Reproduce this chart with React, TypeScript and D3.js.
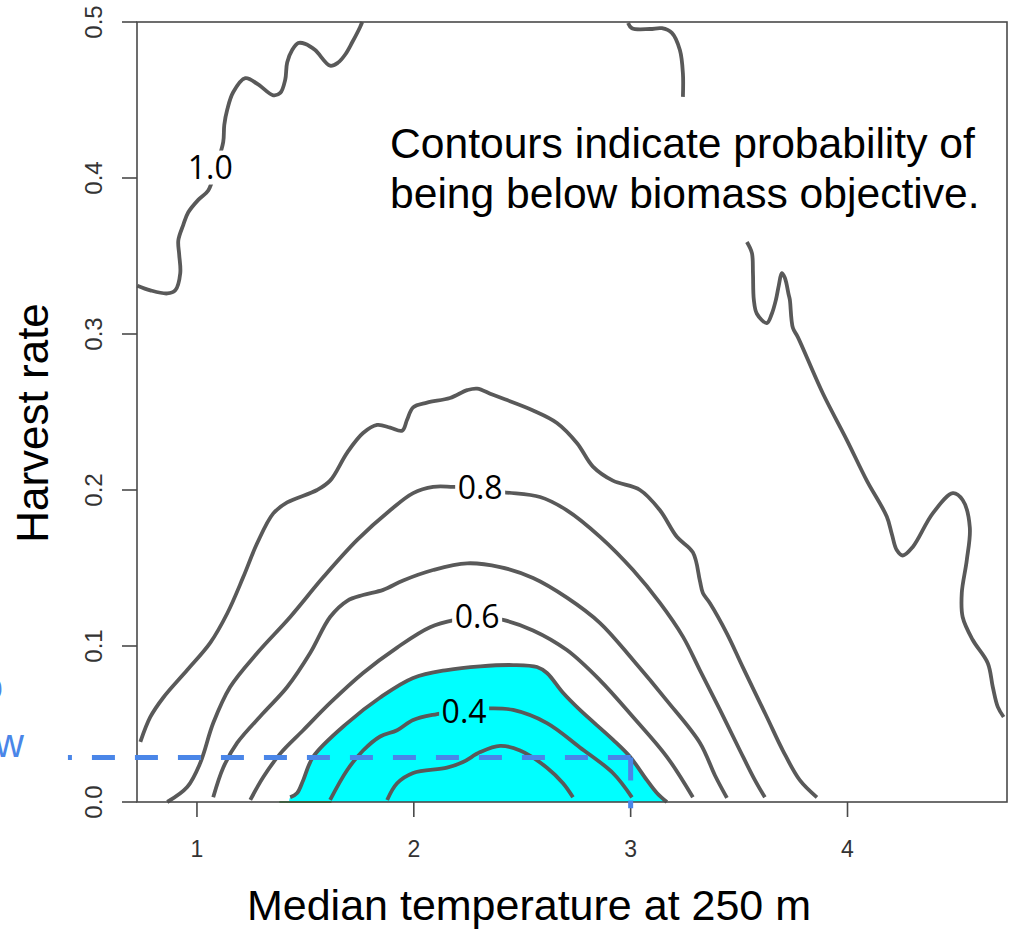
import React from 'react';
import * as d3 from 'd3';

type P = [number, number];

// ---- axes ----
const xTicks = [1, 2, 3, 4];
const xTickLabels = ['1', '2', '3', '4'];
const yTicks = [0, 0.1, 0.2, 0.3, 0.4, 0.5];
const yTickLabels = ['0.0', '0.1', '0.2', '0.3', '0.4', '0.5'];
const xDomain: P = [0.7235, 4.7355];
const yDomain: P = [0, 0.5];

// ---- contour lines: [median temperature, harvest rate] ----
const contour10Left: P[] = [
  [0.725, 0.331], [0.785, 0.328], [0.863, 0.326], [0.9, 0.328], [0.923, 0.339], [0.918, 0.351],
  [0.914, 0.36], [0.937, 0.37], [0.96, 0.378], [1.006, 0.386], [1.052, 0.392], [1.09, 0.408],
  [1.121, 0.423], [1.126, 0.434], [1.14, 0.444], [1.167, 0.455], [1.223, 0.464], [1.282, 0.46],
  [1.352, 0.453], [1.384, 0.4545], [1.407, 0.463], [1.416, 0.474], [1.439, 0.482], [1.467, 0.4865],
  [1.499, 0.486], [1.545, 0.482], [1.614, 0.472], [1.651, 0.474], [1.683, 0.479], [1.716, 0.487],
  [1.753, 0.497], [1.762, 0.5],
];
const contour10TopRight: P[] = [
  [2.988, 0.4994], [3.006, 0.496], [3.089, 0.4955], [3.144, 0.496], [3.19, 0.493], [3.227, 0.482],
  [3.241, 0.467], [3.241, 0.452],
];
const contour10Right: P[] = [
  [3.536, 0.359], [3.559, 0.352], [3.564, 0.339], [3.568, 0.322], [3.582, 0.313], [3.628, 0.307],
  [3.651, 0.313], [3.67, 0.322], [3.683, 0.331], [3.697, 0.339], [3.711, 0.336], [3.729, 0.325],
  [3.734, 0.322], [3.748, 0.304], [3.771, 0.298], [3.886, 0.262], [3.997, 0.232], [4.089, 0.206],
  [4.181, 0.183], [4.204, 0.172], [4.227, 0.1615], [4.255, 0.158], [4.301, 0.1635], [4.393, 0.185],
  [4.486, 0.198], [4.531, 0.1936], [4.564, 0.176], [4.55, 0.155], [4.527, 0.134], [4.531, 0.1186],
  [4.577, 0.104], [4.647, 0.089], [4.67, 0.0737], [4.693, 0.061], [4.72, 0.0545],
];
const contour09: P[] = [
  [0.739, 0.0385], [0.785, 0.0545], [0.845, 0.067], [0.955, 0.0846], [1.061, 0.102], [1.14, 0.121],
  [1.213, 0.144], [1.278, 0.166], [1.352, 0.185], [1.416, 0.192], [1.554, 0.2], [1.614, 0.206],
  [1.693, 0.224], [1.766, 0.2365], [1.831, 0.2417], [1.891, 0.24], [1.946, 0.238], [1.969, 0.245],
  [1.997, 0.253], [2.061, 0.256], [2.167, 0.259], [2.246, 0.264], [2.292, 0.265], [2.365, 0.261],
  [2.55, 0.251], [2.66, 0.243], [2.753, 0.23], [2.826, 0.215], [2.918, 0.206], [3.043, 0.2],
  [3.135, 0.187], [3.213, 0.17], [3.287, 0.16], [3.319, 0.142], [3.333, 0.134], [3.365, 0.1276],
  [3.444, 0.108], [3.517, 0.0865], [3.628, 0.0545], [3.702, 0.033], [3.78, 0.014], [3.859, 0.003],
];
const contour08: P[] = [
  [0.863, 0.0], [0.955, 0.0096], [1.015, 0.025], [1.075, 0.0506], [1.153, 0.0737], [1.278, 0.0955],
  [1.43, 0.1186], [1.582, 0.144], [1.739, 0.168], [1.891, 0.187], [1.997, 0.198], [2.089, 0.202],
  [2.181, 0.202], [2.306, 0.2013], [2.412, 0.1987], [2.582, 0.1955], [2.706, 0.187], [2.859, 0.17],
  [3.011, 0.1487], [3.135, 0.1276], [3.241, 0.106], [3.319, 0.0846], [3.412, 0.059], [3.504, 0.033],
  [3.573, 0.014], [3.619, 0.003],
];
const contour07: P[] = [
  [1.075, 0.003], [1.121, 0.022], [1.186, 0.038], [1.306, 0.057], [1.416, 0.0737], [1.522, 0.0955],
  [1.614, 0.1186], [1.693, 0.129], [1.766, 0.1327], [1.859, 0.136], [1.951, 0.142], [2.089, 0.1487],
  [2.246, 0.153], [2.398, 0.1506], [2.55, 0.1436], [2.706, 0.131], [2.859, 0.1147], [3.011, 0.091],
  [3.167, 0.065], [3.319, 0.038], [3.389, 0.017], [3.444, 0.0026],
];
const contour06: P[] = [
  [1.246, 0.0013], [1.306, 0.016], [1.384, 0.031], [1.49, 0.046], [1.614, 0.0635], [1.766, 0.0827],
  [1.923, 0.099], [2.075, 0.112], [2.19, 0.1167], [2.292, 0.1186], [2.412, 0.1167], [2.55, 0.11],
  [2.706, 0.0974], [2.859, 0.078], [3.011, 0.0545], [3.167, 0.029], [3.287, 0.003],
];
const contour05: P[] = [
  [1.43, 0.003], [1.462, 0.0058], [1.49, 0.014], [1.536, 0.029], [1.693, 0.0506], [1.845, 0.067],
  [1.997, 0.0795], [2.153, 0.0846], [2.306, 0.087], [2.458, 0.0878], [2.568, 0.0865], [2.614, 0.0827],
  [2.688, 0.07], [2.766, 0.059], [2.918, 0.04], [2.997, 0.029], [3.075, 0.014], [3.121, 0.0058],
  [3.167, 0.0],
];
const contour04: P[] = [
  [1.614, 0.0013], [1.693, 0.0205], [1.766, 0.033], [1.845, 0.042], [1.923, 0.046], [1.997, 0.0526],
  [2.107, 0.0564], [2.227, 0.059], [2.352, 0.06], [2.458, 0.059], [2.614, 0.0506], [2.766, 0.035],
  [2.918, 0.0186], [3.006, 0.003],
];
const contour03: P[] = [
  [1.877, 0.0013], [1.923, 0.012], [1.997, 0.0186], [2.153, 0.022], [2.227, 0.0256], [2.306, 0.032],
  [2.398, 0.036], [2.49, 0.033], [2.614, 0.022], [2.688, 0.012], [2.734, 0.003],
];
const contourLines: P[][] = [
  contour10Left, contour10TopRight, contour10Right, contour09, contour08,
  contour07, contour06, contour05, contour04, contour03,
];

// shaded region bounded by the 0.5 contour
const shadedStart: P = [1.425, 0];

// contour labels
const labelTexts = ['1.0', '0.8', '0.6', '0.4'];
const labelTemps = [1.061, 2.306, 2.292, 2.232];
const labelRates = [0.4067, 0.2013, 0.1186, 0.0577];
const labelInShade = [false, false, false, true];

// reference lines
const refTemp = 3.0;
const refHarvest = 0.0285;
const refStartTemp = 0.405;
const refBottom = -0.004;
const greenSegment: P = [1.38, 1.62];

const annotationLines = ['Contours indicate probability of', 'being below biomass objective.'];

const FONT = "'Liberation Sans', Arial, Helvetica, sans-serif";
const CONTOUR_COLOR = '#595959';
const BLUE = '#4a86e8';

export default function App() {
  const W = 1010, H = 929;
  const left = 137, right = 1007, top = 22, bottom = 802;
  const x = d3.scaleLinear().domain(xDomain).range([left, right]);
  const y = d3.scaleLinear().domain(yDomain).range([bottom, top]);
  const line = d3.line<P>().x(d => x(d[0])).y(d => y(d[1])).curve(d3.curveCatmullRom.alpha(0.5));

  const fillPts: P[] = [shadedStart, ...contour05];
  const fillPath = line(fillPts) + 'Z';

  return (
    <div style={{ position: 'absolute', left: 0, top: 0 }}>
      <svg width={W} height={H} style={{ display: 'block', background: 'white' }} fontFamily={FONT}>
        <rect x={0} y={0} width={W} height={H} fill="white" />
        {/* shaded area */}
        <path d={fillPath} fill="#00ffff" stroke="none" />
        <line x1={x(greenSegment[0])} x2={x(greenSegment[1])} y1={y(0)} y2={y(0)} stroke="#22aa22" strokeWidth={2} />
        {/* contours */}
        {contourLines.map((c, i) => (
          <path key={i} d={line(c) || ''} fill="none" stroke={CONTOUR_COLOR} strokeWidth={3.8} strokeLinecap="butt" strokeLinejoin="round" />
        ))}
        {/* contour labels */}
        {labelTexts.map((t, i) => (
          <g key={t}>
            <rect x={x(labelTemps[i]) - 25} y={y(labelRates[i]) - 17} width={50} height={34}
              fill={labelInShade[i] ? '#00ffff' : 'white'} />
            <text x={x(labelTemps[i])} y={y(labelRates[i]) + 11.5} textAnchor="middle"
              fontFamily="'Open Sans', 'Noto Sans', sans-serif" fontSize={32} fill="#000">{t}</text>
          </g>
        ))}
        {/* plot box */}
        <rect x={left} y={top} width={right - left} height={bottom - top} fill="none" stroke="#4a4a4a" strokeWidth={1.6} />
        {/* y axis ticks */}
        {yTicks.map((v, i) => (
          <g key={'y' + i}>
            <line x1={left - 15} x2={left} y1={y(v)} y2={y(v)} stroke="#4a4a4a" strokeWidth={1.6} />
            <text transform={`translate(102,${y(v)}) rotate(-90)`} textAnchor="middle" fontSize={24} fill="#333">{yTickLabels[i]}</text>
          </g>
        ))}
        {/* x axis ticks */}
        {xTicks.map((v, i) => (
          <g key={'x' + i}>
            <line x1={x(v)} x2={x(v)} y1={bottom} y2={bottom + 15} stroke="#4a4a4a" strokeWidth={1.6} />
            <text x={x(v)} y={857} textAnchor="middle" fontSize={23} fill="#333">{xTickLabels[i]}</text>
          </g>
        ))}
        {/* axis titles */}
        <text x={529} y={920} textAnchor="middle" fontSize={43} fill="#000">Median temperature at 250 m</text>
        <text transform="translate(48,423) rotate(-90)" textAnchor="middle" fontSize={44} fill="#000">Harvest rate</text>
        {/* annotation */}
        {annotationLines.map((t, i) => (
          <text key={i} x={390} y={158 + i * 50} fontSize={42.6} fill="#000">{t}</text>
        ))}
        {/* blue reference */}
        <line x1={x(refStartTemp)} x2={x(refTemp)} y1={y(refHarvest)} y2={y(refHarvest)} stroke={BLUE}
          strokeWidth={5} strokeDasharray="23 20" strokeDashoffset={19} />
        <line x1={x(refTemp)} x2={x(refTemp)} y1={y(refHarvest)} y2={y(refBottom)} stroke={BLUE}
          strokeWidth={5} strokeDasharray="23 20" />
        <text x={3} y={700} textAnchor="end" fontSize={40} fill={BLUE}>to</text>
        <text x={24} y={757} textAnchor="end" fontSize={40} fill={BLUE}>below</text>
      </svg>
    </div>
  );
}
